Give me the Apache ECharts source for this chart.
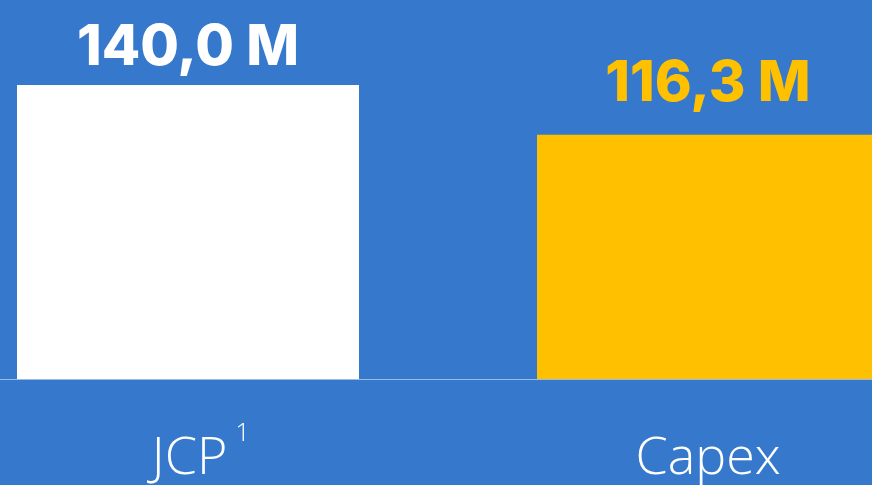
<!DOCTYPE html>
<html>
<head>
<meta charset="utf-8">
<script src="https://cdn.jsdelivr.net/npm/echarts@6/dist/echarts.min.js"></script>
<style>
  html, body { margin: 0; padding: 0; background: #3679cc; }
  #chart { width: 872px; height: 485px; }
</style>
</head>
<body>
<div id="chart"></div>
<script>
// data
const categories = ['JCP', 'Capex'];
const values = [140.0, 116.3];
const labelTexts = ['140,0 M', '116,3 M'];
const barColors = ['#ffffff', '#ffc000'];

let chartDom = document.getElementById('chart');
let myChart = echarts.init(chartDom);
let option;

option = {
  backgroundColor: '#3679cc',
  animation: false,
  grid: [
    // bars: category centers sit on the grid edges
    { left: 188, right: 164, top: 85, bottom: 106 },
    // full-width grid only used for the baseline
    { left: 0, right: 0, top: 85, bottom: 106 }
  ],
  xAxis: [
    {
      type: 'category',
      gridIndex: 0,
      data: categories,
      boundaryGap: false,
      axisLine: { show: false },
      axisTick: { show: false },
      splitLine: { show: false },
      axisLabel: {
        margin: 42,
        color: '#ffffff',
        fontFamily: 'Open Sans',
        fontWeight: 300,
        fontSize: 52,
        formatter: function (v) {
          return v === 'JCP' ? '{j|JCP}{s|1}' : '{a|' + v + '}';
        },
        rich: {
          a: {
            color: '#ffffff',
            fontFamily: 'Open Sans',
            fontWeight: 300,
            fontSize: 52,
            lineHeight: 76
          },
          j: {
            color: '#ffffff',
            fontFamily: 'Open Sans',
            fontWeight: 300,
            fontSize: 52,
            lineHeight: 76,
            padding: [0, 0, 0, 26]
          },
          s: {
            color: '#ffffff',
            fontFamily: 'Open Sans',
            fontWeight: 300,
            fontSize: 26,
            verticalAlign: 'top',
            padding: [0, 0, 0, 8]
          }
        }
      }
    },
    {
      type: 'value',
      gridIndex: 1,
      min: 0,
      max: 1,
      axisLine: { show: true, lineStyle: { color: '#9cbbe8', width: 1 } },
      axisTick: { show: false },
      axisLabel: { show: false },
      splitLine: { show: false }
    }
  ],
  yAxis: [
    { type: 'value', gridIndex: 0, min: 0, max: 140, show: false },
    { type: 'value', gridIndex: 1, min: 0, max: 1, show: false }
  ],
  series: [
    {
      type: 'bar',
      xAxisIndex: 0,
      yAxisIndex: 0,
      barWidth: 342,
      clip: false,
      data: values.map(function (v, i) {
        return {
          value: v,
          itemStyle: { color: barColors[i] },
          label: {
            show: true,
            position: 'top',
            distance: i === 0 ? 9 : 23,
            formatter: labelTexts[i],
            color: barColors[i],
            fontFamily: 'Inter',
            fontWeight: 800,
            fontSize: 56
          }
        };
      })
    }
  ]
};
myChart.setOption(option);
</script>
</body>
</html>
